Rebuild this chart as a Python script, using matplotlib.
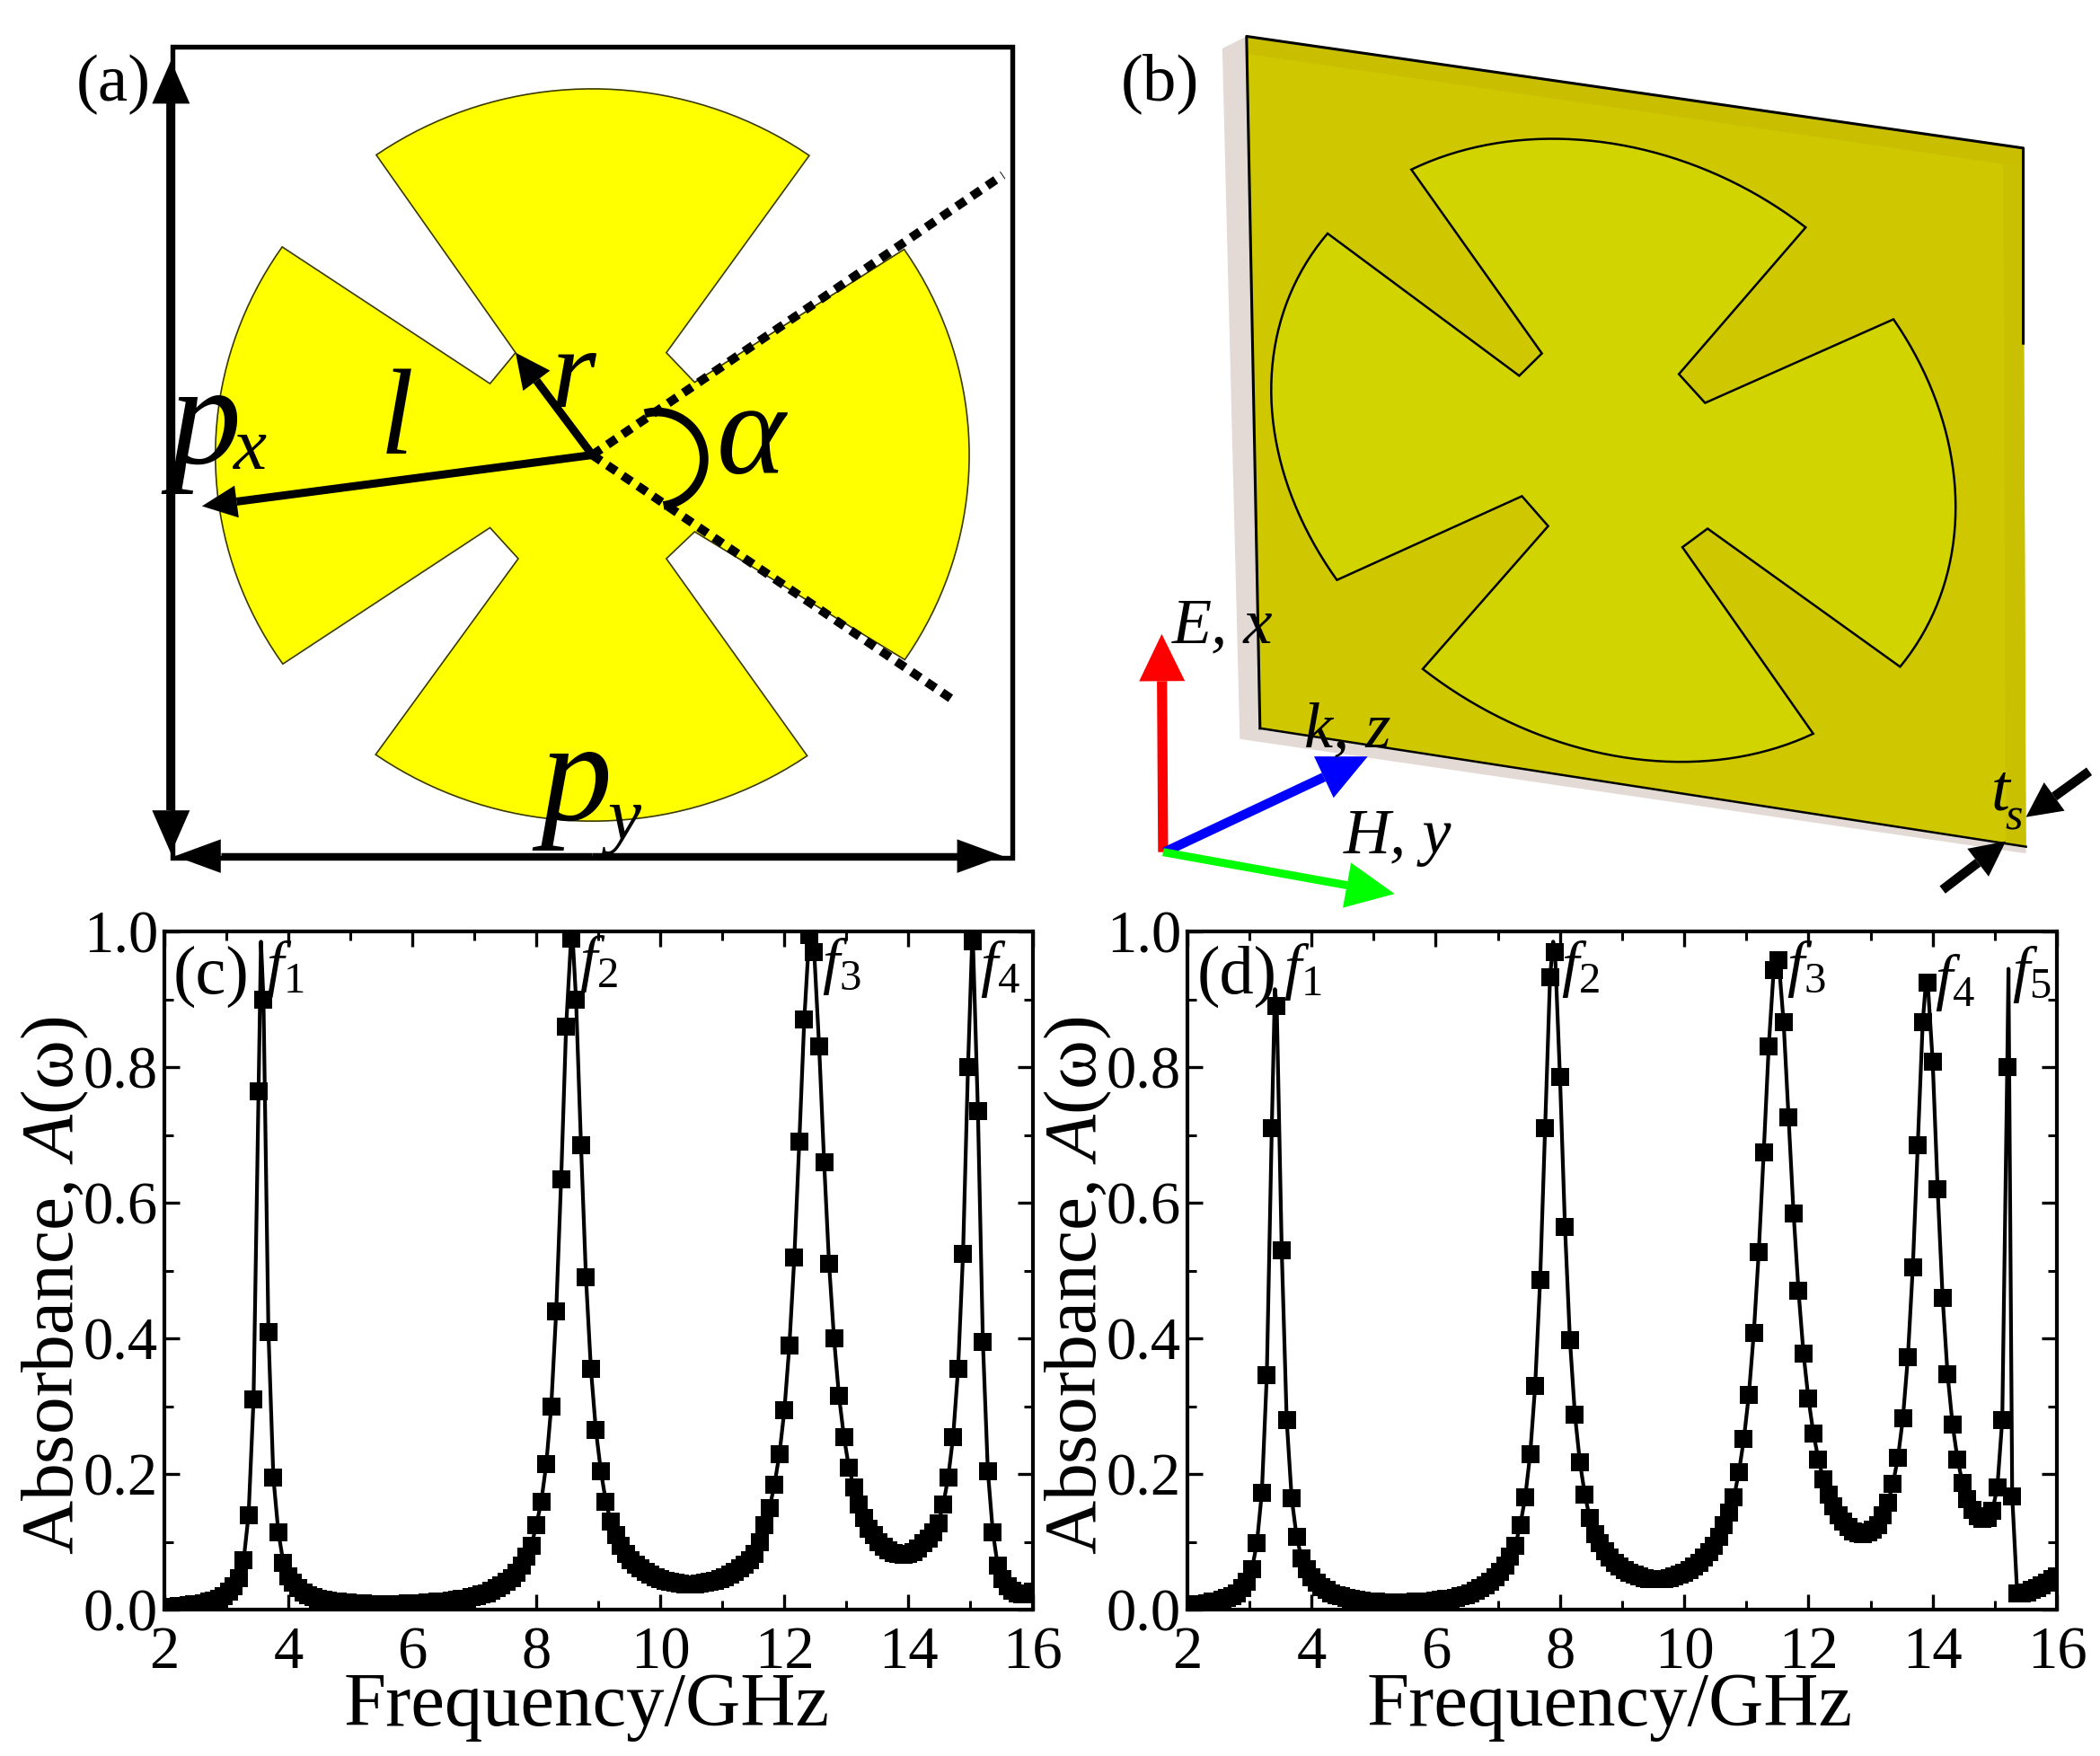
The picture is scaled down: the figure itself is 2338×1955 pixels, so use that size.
import numpy as np
import matplotlib
matplotlib.use("Agg")
import matplotlib.pyplot as plt
from matplotlib.patches import Polygon, Rectangle

plt.rcParams['font.family'] = ['Liberation Serif', 'DejaVu Serif']
plt.rcParams['mathtext.fontset'] = 'custom'
plt.rcParams['mathtext.rm'] = 'Liberation Serif'
plt.rcParams['mathtext.it'] = 'Liberation Serif:italic'

# ---------- data ----------
freq_start = 2.0
freq_step = 0.08
absorb_c = [
 .004,.005,.005,.006,.006,.007,.008,.009,.010,.012,
 .014,.017,.021,.027,.035,.047,.073,.14,.31,.765,
 .90,.41,.195,.115,.07,.05,.04,.032,.026,.022,
 .019,.017,.015,.014,.013,.012,.011,.011,.010,.010,
 .010,.009,.009,.009,.009,.009,.009,.009,.009,.010,
 .010,.010,.010,.011,.011,.012,.012,.013,.014,.015,
 .016,.017,.019,.021,.023,.025,.028,.032,.036,.041,
 .047,.055,.065,.078,.095,.125,.16,.215,.30,.44,
 .635,.86,.99,.90,.685,.49,.355,.265,.205,.16,
 .13,.11,.095,.083,.074,.067,.061,.056,.052,.048,
 .045,.043,.041,.040,.039,.038,.038,.038,.039,.040,
 .041,.043,.045,.048,.052,.056,.061,.067,.074,.083,
 .10,.125,.15,.185,.23,.295,.39,.52,.69,.87,
 .995,.97,.83,.66,.51,.40,.315,.255,.21,.18,
 .155,.135,.12,.11,.10,.093,.088,.084,.082,.081,
 .082,.085,.09,.098,.105,.115,.128,.155,.195,.255,
 .355,.525,.80,.985,.735,.395,.205,.115,.065,.045,
 .035,.028,.025,.023,.024,.027]
absorb_d = [
 .006,.007,.008,.009,.010,.012,.013,.015,.018,.021,
 .025,.032,.042,.06,.098,.173,.346,.71,.89,.53,
 .28,.165,.108,.076,.06,.048,.04,.034,.029,.025,
 .022,.020,.018,.016,.015,.014,.013,.012,.012,.011,
 .011,.011,.011,.011,.011,.011,.012,.012,.012,.013,
 .014,.015,.016,.017,.018,.020,.022,.025,.028,.032,
 .036,.042,.048,.056,.066,.078,.095,.125,.166,.23,
 .33,.486,.71,.933,.97,.785,.565,.398,.288,.218,
 .17,.135,.112,.098,.086,.077,.07,.064,.059,.055,
 .052,.049,.047,.046,.045,.045,.046,.047,.049,.052,
 .055,.059,.064,.07,.077,.085,.095,.108,.125,.143,
 .166,.203,.252,.317,.408,.528,.675,.83,.943,.958,
 .866,.726,.585,.47,.378,.311,.26,.222,.192,.17,
 .153,.14,.13,.122,.116,.113,.112,.114,.118,.125,
 .14,.158,.186,.224,.282,.372,.505,.685,.867,.925,
 .808,.62,.46,.347,.273,.222,.187,.163,.147,.138,
 .134,.136,.146,.18,.28,.80,.168,.025,.024,.026,
 .029,.032,.036,.04,.045,.05]
# line-only peak samples (between the marker samples)
peak_fc = [3.56, 8.58, 12.44, 15.03]
peak_ac = [0.985, 1.0, 1.0, 0.995]
peak_fd = [3.41, 7.89, 11.49, 13.90, 15.22]
peak_ad = [0.915, 0.985, 0.965, 0.935, 0.945]
xticks = [2, 4, 6, 8, 10, 12, 14, 16]
yticks = [0.0, 0.2, 0.4, 0.6, 0.8, 1.0]

# ---------- figure ----------
fig = plt.figure(figsize=(23.38, 19.55), dpi=100)
W, H = 1560.0, 1304.5   # overlay units
ov = fig.add_axes([0, 0, 1, 1])
ov.set_xlim(0, W); ov.set_ylim(H, 0); ov.axis('off')
U = 2338.0 / W * 72 / 100    # points per overlay unit


def arrow(p0, p1, lw, hl, hw, color='k', z=6):
    p0 = np.array(p0, float); p1 = np.array(p1, float)
    d = (p1 - p0) / np.hypot(*(p1 - p0))
    n = np.array([-d[1], d[0]])
    base = p1 - d * hl
    ov.plot([p0[0], base[0]], [p0[1], base[1]], color=color, lw=lw * U,
            solid_capstyle='butt', zorder=z)
    ov.add_patch(Polygon([p1, base + n * hw / 2, base - n * hw / 2],
                         closed=True, fc=color, ec='none', zorder=z))


# ----- shape outline (panel a geometry) -----
C = np.array([440.0, 338.0]); RX, RY = 280.0, 272.0


def arc(p, q):
    a0 = np.arctan2((p[1] - C[1]) / RY, (p[0] - C[0]) / RX)
    a1 = np.arctan2((q[1] - C[1]) / RY, (q[0] - C[0]) / RX)
    if (a1 - a0) > np.pi: a1 -= 2 * np.pi
    if (a1 - a0) < -np.pi: a1 += 2 * np.pi
    t = np.linspace(a0, a1, 40)
    return [(C[0] + RX * np.cos(v), C[1] + RY * np.sin(v)) for v in t]


top_l, top_r = (278, 113), (603, 113)
rgt_t, rgt_b = (675, 183), (672, 490)
bot_r, bot_l = (600, 562), (278, 562)
lft_b, lft_t = (209, 494), (209, 183)
outline = []
outline += arc(top_l, top_r)
outline += [(495, 262), (516, 284)]
outline += arc(rgt_t, rgt_b)
outline += [(516, 395), (495, 415)]
outline += arc(bot_r, bot_l)
outline += [(385, 415), (364, 392)]
outline += arc(lft_b, lft_t)
outline += [(364, 285), (383, 262)]
outline = np.array(outline)

# ----- panel (a) -----
ov.add_patch(Polygon(outline, closed=True, fc='#FFFF00', ec='#3a3a00', lw=1.2, zorder=2))
ov.add_patch(Rectangle((128, 35), 624, 602, fc='none', ec='k', lw=3.6 * U, zorder=3))
arrow((127, 340), (127, 45), 6.5, 32, 28)
arrow((127, 340), (127, 634), 6.5, 32, 28)
arrow((440, 636), (130, 636), 5, 34, 25)
arrow((440, 636), (745, 636), 5, 34, 25)
for end in [(745, 130), (708, 520)]:
    ov.plot([C[0], end[0]], [C[1], end[1]], color='k', lw=6.5 * U,
            ls=(0, (1.2, 0.9)), dash_capstyle='butt', zorder=5)
arrow(C, (383, 262), 6, 26, 25)
arrow(C, (150, 376), 6, 26, 24)
t = np.radians(np.linspace(-105, 82, 60))
ov.plot(488 + 35 * np.cos(t), 341 + 35 * np.sin(t), color='k', lw=6.5 * U,
        solid_capstyle='butt', zorder=6)


def txt(x, y, s, size, ha='center', va='center', **kw):
    ov.text(x, y, s, fontsize=size, ha=ha, va=va, zorder=8, **kw)


txt(84, 63, '(a)', 54)
txt(152, 318, 'p', 115, style='italic')
txt(185, 335, 'x', 60, style='italic')
txt(295, 315, 'l', 98, style='italic')
txt(426, 282, 'r', 92, style='italic')
txt(558, 328, 'α', 105, style='italic')
txt(428, 583, 'p', 115, style='italic')
txt(464, 610, 'y', 60, style='italic')

# ----- panel (b) -----
pl_tl, pl_tr, pl_br, pl_bl = (926, 27), (1503, 110), (1505, 629), (936, 541)
ov.add_patch(Polygon([(908, 36), (926, 27), (936, 541), (1505, 618), (1505, 634), (921, 549)],
                     closed=True, fc='#E3D9D5', ec='none', zorder=1))
ov.add_patch(Polygon([pl_tl, pl_tr, pl_br, pl_bl], closed=True, fc='#CFC800', ec='none', zorder=2))
ov.add_patch(Polygon([pl_tl, pl_tr, (1503, 124), (926, 40)], closed=True, fc='#C9BF00', ec='none', zorder=2))
ov.add_patch(Polygon([(1488, 122), (1503, 124), pl_br, (1490, 627)], closed=True, fc='#C8C000', ec='none', zorder=2))
ov.plot(*zip(pl_bl, pl_tl, pl_tr, (1503, 255)), color='k', lw=2.2, zorder=4)
ov.plot(*zip(pl_bl, pl_br), color='k', lw=1.8, zorder=4)

# bilinear map of the panel (a) outline onto the tilted plate
a_x0, a_x1, a_y0, a_y1 = 278.0, 603.0, 113.0, 562.0
b_tl, b_tr = np.array([1047.0, 124.0]), np.array([1343.0, 167.0])
b_bl, b_br = np.array([1056.0, 498.0]), np.array([1350.0, 546.0])
u = ((outline[:, 0] - a_x0) / (a_x1 - a_x0))[:, None]
v = ((outline[:, 1] - a_y0) / (a_y1 - a_y0))[:, None]
tilted = (1 - u) * (1 - v) * b_tl + u * (1 - v) * b_tr + (1 - u) * v * b_bl + u * v * b_br
ov.add_patch(Polygon(tilted, closed=True, fc='#D2D400', ec='k', lw=1.8, zorder=3))

origin = (864, 633)
arrow(origin, (863, 471), 7.5, 35, 34, color='#FF0000')
arrow((865, 633), (1016, 562), 7, 36, 34, color='#0000FF')
arrow(origin, (1036, 664), 6, 36, 34, color='#00FF00')
arrow((1552, 573), (1505, 607), 7, 26, 26)
arrow((1443, 661), (1490, 625), 7, 26, 26)
txt(862, 62, '(b)', 54)
txt(908, 466, 'E, x', 52, style='italic')
txt(1001, 543, 'k, z', 52, style='italic')
txt(1038, 622, 'H, y', 52, style='italic')
txt(1486, 590, 't', 54, style='italic')
txt(1496, 608, 's', 36, style='italic')


# ----- panels (c), (d) -----
def spectrum(rect, tag, tag_x, y, pf, pa, flabels):
    x0, x1, y0, y1 = rect
    ax = fig.add_axes([x0 / W, 1 - y1 / H, (x1 - x0) / W, (y1 - y0) / H])
    ax.patch.set_alpha(0)
    y = np.array(y, float)
    f = np.round(freq_start + freq_step * np.arange(len(y)), 2)
    lf = np.concatenate([f, pf]); la = np.concatenate([y, pa])
    o = np.argsort(lf)
    ax.plot(lf[o], la[o], color='k', lw=3, zorder=3)
    ax.plot(f, y, ls='none', marker='s', ms=14.5, mfc='k', mec='k', mew=0, zorder=4)
    ax.set_xlim(2, 16); ax.set_ylim(0, 1)
    ax.set_xticks(xticks); ax.set_yticks(yticks)
    ax.set_yticklabels(['%.1f' % v for v in yticks])
    ax.set_xticks(np.arange(3, 16, 2), minor=True)
    ax.set_yticks(np.arange(0.1, 1.0, 0.2), minor=True)
    ax.tick_params(which='major', direction='in', top=True, right=True, length=12,
                   width=2.4, labelsize=48, pad=5)
    ax.tick_params(axis='x', which='major', pad=13)
    ax.tick_params(which='minor', direction='in', top=True, right=True, length=7, width=2.2)
    for s in ax.spines.values():
        s.set_linewidth(3)
    ax.set_xlabel('Frequency/GHz', fontsize=61)
    ax.set_ylabel('Absorbance, $A$(ω)', fontsize=60)
    ax.xaxis.set_label_coords(0.486, -0.092)
    ax.yaxis.set_label_coords(-0.085, 0.478)
    ax.text((tag_x - x0) / (x1 - x0), 0.933, tag, fontsize=55, ha='center', va='center',
            transform=ax.transAxes, zorder=6)
    for lab, lx, ly in flabels:
        ax.text((lx - x0) / (x1 - x0), (y1 - ly) / (y1 - y0), r'$f_{%s}$' % lab, fontsize=50,
                ha='center', va='center', transform=ax.transAxes, zorder=6)
    return ax


spectrum((122, 767, 692, 1196), '(c)', 157, absorb_c, peak_fc, peak_ac,
         [('1', 212, 720), ('2', 445, 716), ('3', 625, 718), ('4', 743, 720)])
spectrum((882, 1528, 692, 1196), '(d)', 919, absorb_d, peak_fd, peak_ad,
         [('1', 968, 722), ('2', 1174, 720), ('3', 1342, 720), ('4', 1452, 730), ('5', 1509, 724)])

fig.savefig('out.png', dpi=100)
